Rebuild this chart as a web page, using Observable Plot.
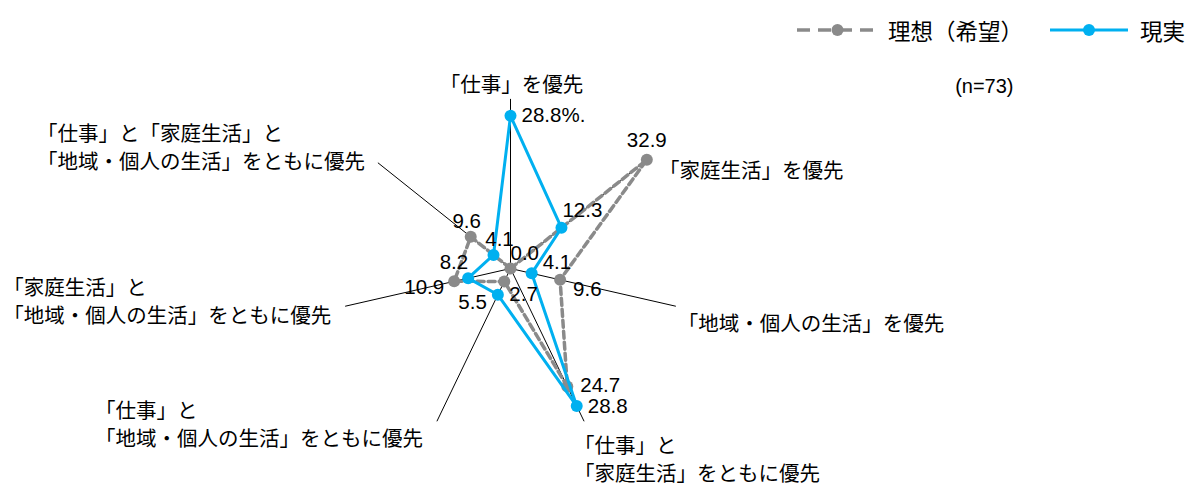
<!DOCTYPE html>
<html>
<head>
<meta charset="utf-8">
<script src="https://cdn.jsdelivr.net/npm/d3@7"></script>
<script src="https://cdn.jsdelivr.net/npm/@observablehq/plot@0.6"></script>
<style>
  html, body { margin: 0; padding: 0; background: #fff; }
  #wrap { width: 1200px; }
  #legend { position: relative; height: 50px; font-family: "Noto Sans CJK JP", sans-serif; font-size: 22.5px; color: #000; }
  #legend .item { position: absolute; top: 0; height: 50px; display: flex; align-items: center; }
  #legend svg { display: block; }
</style>
</head>
<body>
<div id="wrap">
  <div id="legend"></div>
  <div id="chart"></div>
</div>
<script>
// ---- data ----
const categories = [
  "「仕事」を優先",
  "「家庭生活」を優先",
  "「地域・個人の生活」を優先",
  "「仕事」と\n「家庭生活」をともに優先",
  "「仕事」と\n「地域・個人の生活」をともに優先",
  "「家庭生活」と\n「地域・個人の生活」をともに優先",
  "「仕事」と「家庭生活」と\n「地域・個人の生活」をともに優先"
];
const seriesNames = ["理想（希望）", "現実"];
const ideal   = [0.0, 32.9, 9.6, 24.7, 2.7, 10.9, 9.6];
const reality = [28.8, 12.3, 4.1, 28.8, 5.5, 8.2, 4.1];
const realitySuffix = ["%.", "", "", "", "", "", ""];
const sampleNote = "(n=73)";

// ---- label placement (pixel offsets, style only) ----
const categoryLabelPos = [
  {anchor: "middle", dx: 1,    dy: -16},
  {anchor: "start",  dx: 16,   dy: 6},
  {anchor: "start",  dx: 2,    dy: 16},
  {anchor: "start",  dx: -10,  dy: 37},
  {anchor: "start",  dx: -342, dy: 2},
  {anchor: "start",  dx: -342, dy: -6},
  {anchor: "start",  dx: -341, dy: -17}
];
const idealLabelPos = [
  {anchor: "start",  dx: 0,   dy: -15},
  {anchor: "middle", dx: 0,   dy: -19},
  {anchor: "start",  dx: 13,  dy: 10},
  {anchor: "start",  dx: 13,  dy: -1},
  {anchor: "start",  dx: 5,   dy: 13},
  {anchor: "end",    dx: -10, dy: 6},
  {anchor: "middle", dx: -4,  dy: -15}
];
const realityLabelPos = [
  {anchor: "start",  dx: 11,  dy: 0},
  {anchor: "start",  dx: 1,   dy: -17},
  {anchor: "start",  dx: 11,  dy: -11},
  {anchor: "start",  dx: 11,  dy: 0},
  {anchor: "end",    dx: -11, dy: 8},
  {anchor: "end",    dx: 0,   dy: -16},
  {anchor: "middle", dx: 6,   dy: -16}
];

// ---- layout constants ----
const W = 1200, H = 450;
const CX = 510, CY = 218, K = 5.3;   // centre (px) and px per %
const SPOKE = 32;                     // spoke length in %
const GRAY = "#8a8a8a", BLUE = "#00b0f0";
const JP = "'Noto Sans CJK JP', sans-serif";
const NUM = "'Liberation Sans', Arial, sans-serif";

const n = categories.length;
const ang = i => i * 2 * Math.PI / n;
const px = (v, i) => v * Math.sin(ang(i));
const py = (v, i) => v * Math.cos(ang(i));

const idx = d3.range(n);
const toRows = vals => idx.map(i => ({i, v: vals[i], x: px(vals[i], i), y: py(vals[i], i)}));
const idealRows = toRows(ideal);
const realRows = toRows(reality);
const closed = rows => rows.concat([rows[0]]);
const spokeRows = idx.map(i => ({i, x: px(SPOKE, i), y: py(SPOKE, i)}));

const marks = [];
// spokes
marks.push(Plot.link(spokeRows, {x1: () => 0, y1: () => 0, x2: "x", y2: "y", stroke: "#000", strokeWidth: 1}));
// category labels
spokeRows.forEach((r, i) => {
  const p = categoryLabelPos[i];
  marks.push(Plot.text([r], {x: "x", y: "y", text: () => categories[i], textAnchor: p.anchor, dx: p.dx, dy: p.dy,
    lineAnchor: "middle", lineHeight: 1.37, fontSize: 20.5, fontFamily: JP, fill: "#000"}));
});
// ideal series
marks.push(Plot.line(closed(idealRows), {x: "x", y: "y", stroke: GRAY, strokeWidth: 3.5, strokeDasharray: "7,4", strokeLinejoin: "round"}));
marks.push(Plot.dot(idealRows, {x: "x", y: "y", r: 6, fill: GRAY, stroke: "none"}));
// reality series
marks.push(Plot.line(closed(realRows), {x: "x", y: "y", stroke: BLUE, strokeWidth: 3, strokeLinejoin: "round"}));
marks.push(Plot.dot(realRows, {x: "x", y: "y", r: 6, fill: BLUE, stroke: "none"}));
// value labels
idealRows.forEach((r, i) => {
  const p = idealLabelPos[i];
  marks.push(Plot.text([r], {x: "x", y: "y", text: d => d.v.toFixed(1), textAnchor: p.anchor, dx: p.dx, dy: p.dy,
    fontSize: 20.5, fontFamily: NUM, fill: "#000"}));
});
realRows.forEach((r, i) => {
  const p = realityLabelPos[i];
  marks.push(Plot.text([r], {x: "x", y: "y", text: d => d.v.toFixed(1) + realitySuffix[i], textAnchor: p.anchor, dx: p.dx, dy: p.dy,
    fontSize: 20.5, fontFamily: NUM, fill: "#000"}));
});
// sample size note
marks.push(Plot.text([sampleNote], {frameAnchor: "top-right", text: d => d, textAnchor: "end", dx: -187, dy: 36,
  lineAnchor: "middle", fontSize: 20, fontFamily: NUM, fill: "#000"}));

const chart = Plot.plot({
  width: W, height: H,
  marginTop: 0, marginRight: 0, marginBottom: 0, marginLeft: 0,
  x: {type: "linear", domain: [-CX / K, (W - CX) / K], axis: null},
  y: {type: "linear", domain: [-(H - CY) / K, CY / K], axis: null},
  style: {background: "#fff", overflow: "visible"},
  marks
});
document.getElementById("chart").appendChild(chart);

// ---- legend ----
const legend = document.getElementById("legend");
const legendItems = [
  {name: seriesNames[0], color: GRAY, dash: "13,8", w: 3.5, left: 797, sw: 81, textLeft: 888},
  {name: seriesNames[1], color: BLUE, dash: null, w: 3, left: 1050, sw: 78, textLeft: 1140}
];
legendItems.forEach(it => {
  const sw = document.createElement("div");
  sw.className = "item";
  sw.style.left = it.left + "px";
  sw.style.top = "5px";
  sw.innerHTML = `<svg width="${it.sw}" height="16"><line x1="0" x2="${it.sw}" y1="8" y2="8" stroke="${it.color}" stroke-width="${it.w}" ${it.dash ? `stroke-dasharray="${it.dash}"` : ""}/><circle cx="${it.sw / 2}" cy="8" r="6" fill="${it.color}"/></svg>`;
  legend.appendChild(sw);
  const tx = document.createElement("div");
  tx.className = "item";
  tx.style.left = it.textLeft + "px";
  tx.style.top = "5px";
  tx.textContent = it.name;
  legend.appendChild(tx);
});
</script>
</body>
</html>
